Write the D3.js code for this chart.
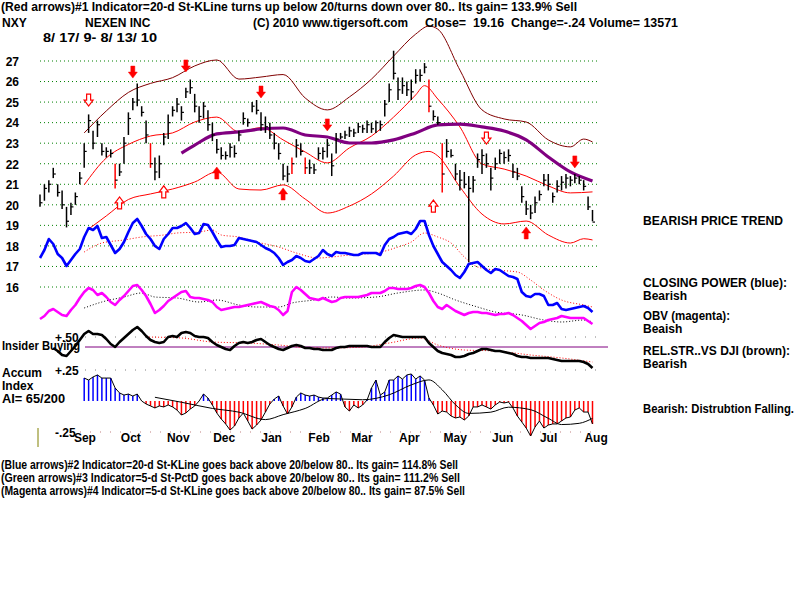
<!DOCTYPE html>
<html><head><meta charset="utf-8">
<script src="https://cdn.jsdelivr.net/npm/d3@7"></script>
<style>
body{margin:0;background:#fff}
svg text{font-family:"Liberation Sans",Arial,sans-serif;font-weight:bold;font-size:12px;white-space:pre;fill:#000}
</style></head><body>
<svg id="c" width="800" height="600"></svg>
<script>
// ---------------- DATA ----------------
const priceTicks = [27,26,25,24,23,22,21,20,19,18,17,16];
const monthLabels = ["Sep","Oct","Nov","Dec","Jan","Feb","Mar","Apr","May","Jun","Jul","Aug"];
const monthMid = ["2009-09-15","2009-10-15","2009-11-15","2009-12-15","2010-01-15","2010-02-15","2010-03-15","2010-04-15","2010-05-15","2010-06-15","2010-07-15","2010-08-15"];
const dateRange = ["2009-08-17","2010-08-13"];

const priceHigh = [20.5,21.0,21.2,21.8,21.0,20.7,19.9,20.1,20.6,21.6,
 23.0,24.4,23.6,24.1,23.0,22.8,22.7,22.0,22.0,23.3,
 24.5,25.2,25.9,24.8,24.1,23.0,22.3,22.4,23.5,24.4,
 24.8,25.2,24.8,25.7,26.1,25.4,24.8,25.0,24.6,24.0,
 23.2,22.8,22.6,23.0,22.9,23.6,24.5,24.2,25.0,25.1,
 24.5,24.3,24.0,23.5,23.0,22.0,21.9,22.3,23.2,23.0,
 22.3,22.2,22.0,22.8,22.8,23.2,22.5,23.5,23.5,23.6,
 23.8,23.7,24.0,23.9,24.1,24.0,24.1,24.1,25.1,25.9,
 27.5,26.2,26.2,26.0,26.1,26.6,26.6,26.9,26.1,24.6,
 24.3,23.0,23.2,22.7,22.0,21.7,21.6,21.4,21.4,22.5,
 22.7,22.5,21.8,22.3,22.7,22.6,22.7,22.0,21.8,20.9,
 20.2,20.0,20.4,20.7,21.5,21.5,20.6,21.2,21.4,21.5,
 21.4,21.5,21.4,21.2,20.4,19.75];
const priceLow = [19.9,20.2,20.6,21.3,20.4,19.8,18.9,19.5,20.0,21.0,
 21.8,23.5,22.7,23.3,22.4,22.3,22.3,20.8,21.4,22.0,
 23.4,24.6,24.8,24.3,23.0,21.8,21.2,21.3,22.9,23.2,
 24.3,24.5,24.1,25.2,25.4,24.5,24.0,24.2,23.6,23.1,
 22.5,22.2,22.2,22.3,22.3,23.1,23.9,23.8,24.5,24.4,
 23.6,23.5,23.2,22.7,22.2,21.2,21.1,21.5,22.3,22.4,
 21.5,21.5,21.5,22.2,22.2,22.3,21.4,22.5,23.2,23.2,
 23.3,23.3,23.5,23.5,23.5,23.5,23.5,23.6,24.3,25.0,
 26.1,25.1,25.4,25.3,25.1,25.9,26.0,26.4,24.5,24.1,
 23.9,20.6,22.3,22.3,21.2,20.7,20.8,17.2,20.6,21.8,
 21.5,21.8,20.7,21.7,22.0,22.0,22.1,21.3,21.2,20.1,
 19.5,19.3,19.6,20.2,20.9,20.7,20.1,20.6,20.7,20.8,
 20.9,21.05,21.0,20.7,19.75,19.2];
const priceClose = [20.1,20.8,21.0,21.5,20.6,20.0,19.2,19.9,20.4,21.3,
 22.6,24.1,23.0,23.9,22.6,22.6,22.5,21.2,21.6,23.0,
 24.2,25.0,25.1,24.5,23.4,22.0,21.6,22.0,23.3,24.0,
 24.6,24.9,24.5,25.5,25.7,24.8,24.3,24.8,23.9,23.4,
 22.7,22.4,22.4,22.8,22.5,23.4,24.2,24.0,24.8,24.6,
 23.9,23.8,23.4,23.0,22.5,21.4,21.5,22.0,22.9,22.6,
 21.8,21.8,21.7,22.5,22.6,22.9,21.9,23.2,23.3,23.4,
 23.6,23.5,23.8,23.7,23.9,23.7,24.0,23.9,24.9,25.6,
 26.4,25.6,25.8,25.6,25.5,26.3,26.3,26.7,24.8,24.3,
 24.0,21.5,22.6,22.4,21.5,21.2,21.0,20.8,21.2,22.2,
 22.4,22.0,21.3,22.0,22.5,22.3,22.4,21.6,21.4,20.4,
 19.8,19.6,20.1,20.5,21.2,21.0,20.4,20.9,21.1,21.3,
 21.2,21.3,21.2,20.9,19.9,19.16];
const redBars = [17,25,57,60,88,91];

// smooth bands: [bar index, price]
const upperBand = [[10,23.5],[15,24.57],[20,25.47],[25,25.91],[30,26.19],[35,26.76],[40,27.05],[45,26.12],[50,26.22],[55,26.34],[60,25.2],[65,24.62],[70,25.25],[75,26.12],[80,27.24],[85,28.31],[88,28.7],[90,28.55],[95,26.56],[100,24.62],[105,24.18],[110,24.03],[115,23.16],[120,22.82],[123,23.2],[125,23.06]];
const midBand = [[10,20.97],[15,22.28],[20,22.94],[25,23.35],[30,23.5],[35,24.03],[40,24.27],[45,23.55],[50,23.76],[55,23.16],[60,22.57],[65,22.04],[70,22.77],[75,23.35],[80,24.27],[85,25.35],[87,25.8],[90,25.15],[95,23.79],[100,21.99],[105,21.74],[110,21.4],[115,20.92],[120,20.58],[125,20.63]];
const lowBand = [[11,18.82],[15,19.46],[20,20.26],[25,20.53],[30,20.77],[35,21.11],[40,21.6],[45,20.77],[50,20.72],[55,20.97],[60,20.28],[65,19.6],[70,19.94],[75,20.53],[80,21.4],[85,22.43],[88,22.6],[90,22.38],[95,20.87],[100,19.55],[105,19.07],[110,19.21],[115,18.53],[120,18.14],[123,18.35],[125,18.29]];
const purpleMA = [[32,22.52],[35,22.91],[40,23.45],[45,23.55],[50,23.69],[55,23.74],[60,23.4],[65,23.3],[70,23.01],[75,23.01],[80,23.16],[85,23.5],[90,23.89],[95,23.93],[100,23.79],[105,23.59],[110,23.16],[115,22.33],[120,21.6],[125,21.16]];

// signal arrows: [bar index, price, hollow]
const sellArrows = [[11,25.1,1],[21,26.46,0],[33,26.76,0],[50,25.49,0],[65,23.89,0],[101,23.25,1],[121,22.09,0]];
const buyArrows = [[18,20.09,1],[28,20.63,1],[40,21.55,0],[55,20.53,0],[89,19.94,1],[110,18.63,0]];

// Closing Power (blue), indicator units
const closingPower = [62,70,81,76,66,62,54,60,66,71,
 83,92,90,94,82,83,75,67,71,78,
 88,97,101,94,86,81,74,71,81,86,
 92,92,94,97,92,86,87,96,95,88,
 80,73,74,74,75,82,81,80,79,78,
 75,72,70,67,62,55,58,60,64,62,
 59,58,61,64,70,66,64,68,67,67,
 66,65,65,67,67,67,67,65,75,81,
 83,86,87,88,86,91,99,99,85,74,
 66,58,54,50,45,42,48,56,57,58,
 54,50,47,51,50,47,44,43,41,28,
 24,23,26,26,24,15,15,17,11,10,
 11,12,13,14,12,8];
const closingPowerMA = [[10,68],[14,77],[19,80],[23,83],[28,85],[31,87],[36,88],[39,90],[41,85],[45,83],[49,78],[54,73],[58,67],[63,62],[66,63],[70,65],[76,67],[81,73],[84,78],[87,87],[90,83],[93,77],[96,63],[99,53],[103,50],[108,48],[111,40],[114,30],[118,20],[123,15],[125,13]];

// OBV (magenta)
const obv = [21,24,29,31,28,25,24,30,35,42,
 48,52,50,45,47,43,38,35,40,44,
 49,54,55,50,44,36,27,30,34,39,
 42,45,48,49,43,42,42,41,40,38,
 33,30,31,32,33,33,34,35,36,37,
 38,36,34,33,30,25,29,48,53,50,
 46,42,41,40,42,40,38,39,42,43,
 43,43,43,44,45,47,47,47,49,52,
 52,51,51,51,52,54,55,53,47,39,
 33,31,35,32,29,27,25,27,28,28,
 27,27,26,25,26,26,27,25,22,19,
 15,11,14,17,18,20,21,22,24,23,
 22,22,22,22,19,16];
const obvMA = [[10,32],[14,38],[19,43],[23,47],[26,43],[31,42],[36,38],[40,40],[45,35],[49,33],[54,33],[57,37],[62,40],[66,43],[70,42],[76,43],[81,47],[87,50],[90,47],[94,40],[99,33],[103,28],[109,25],[114,20],[118,18],[123,20],[125,18]];

// Relative strength vs DJI (black)
const relStr = [null,null,null,27,24,20,19,24,29,35,
 41,44,41,41,40,36,31,28,33,37,
 41,45,48,44,39,35,33,32,33,38,
 39,38,42,43,42,39,38,38,37,33,
 30,28,26,25,29,32,33,32,33,35,
 36,33,30,28,26,25,27,29,30,29,
 27,27,26,26,25,25,25,27,28,28,
 29,29,29,29,29,28,28,28,33,37,
 40,39,38,38,38,38,38,38,32,28,
 24,22,21,20,18,18,19,21,22,24,
 26,26,25,24,24,23,22,21,19,18,
 18,17,17,17,17,17,16,15,14,14,
 14,14,14,13,11,7];
const relStrMA = [[24,38],[32,37],[39,33],[47,32],[54,30],[62,27],[66,27],[73,28],[79,32],[86,37],[90,30],[96,25],[103,24],[111,20],[118,17],[125,13]];
const relStrBase = 28;

// Accumulation index
const accum = [null,null,null,null,null,null,null,null,null,null,
 .185,.169,.194,.21,.185,.185,.185,.105,.065,.048,
 .056,.04,.056,0,-.024,-.04,-.056,-.04,-.048,-.032,
 -.048,-.073,-.113,-.097,-.065,-.04,0,.056,.024,-.032,
 -.097,-.145,-.185,-.234,-.202,-.137,-.097,-.161,-.226,-.194,
 -.153,-.089,-.024,.016,.04,-.04,-.105,-.048,.032,.065,
 .048,.04,.048,.032,.024,.024,.048,.073,.056,-.048,
 -.081,-.032,-.056,-.032,.008,.105,.169,.048,.073,.169,
 .169,.202,.177,.21,.218,.177,.202,.169,.024,-.032,
 -.105,-.081,-.089,-.121,-.137,-.129,-.153,-.121,-.048,-.048,
 -.032,-.048,-.065,-.032,-.008,-.016,-.008,-.056,-.121,-.169,
 -.218,-.282,-.21,-.161,-.218,-.194,-.185,-.185,-.161,-.137,
 -.129,-.073,-.056,-.089,-.089,-.185];
const accumMA = [[26,.03],[32,-.01],[39,-.06],[45,-.09],[51,-.15],[55,-.11],[60,-.06],[65,.02],[73,.01],[79,.05],[84,.13],[88,.17],[91,.09],[94,-.03],[97,-.10],[102,-.09],[106,-.05],[111,-.07],[115,-.14],[118,-.19],[122,-.18],[125,-.14]];
const accumTicks = [0.5, 0.25, -0.25];

// ---------------- SCALES ----------------
const N = priceClose.length;
const svg = d3.select("#c");
const xi = d3.scaleLinear().domain([0, N-1]).range([40, 592.5]);
const xt = d3.scaleTime().domain(dateRange.map(d=>new Date(d))).range([40, 592.5]);
const yP = d3.scaleLinear().domain([16,27]).range([287,61]);
const yCP = d3.scaleLinear().domain([0,110]).range([320,210]);
const yOBV = d3.scaleLinear().domain([0,60]).range([340,280]);
const yRS = d3.scaleLinear().domain([0,50]).range([375,325]);
const yAI = d3.scaleLinear().domain([-0.25,0.25]).range([432,370]);

function txt(x, y, s, opt={}) {
  const t = svg.append("text").attr("x", x).attr("y", y).text(s);
  if (opt.size) t.style("font-size", opt.size + "px");
  if (opt.w) t.attr("textLength", opt.w).attr("lengthAdjust", "spacingAndGlyphs");
  if (opt.anchor) t.attr("text-anchor", opt.anchor);
  return t;
}
const pairs = arr => arr.map((v,i)=>[i,v]);
function drawLine(data, yS, color, width, opts={}) {
  const gen = d3.line().defined(d=>d[1]!=null).x(d=>xi(d[0])).y(d=>yS(d[1]));
  if (opts.curve) gen.curve(opts.curve);
  const p = svg.append("path").datum(data).attr("d", gen).attr("fill","none")
    .attr("stroke", color).attr("stroke-width", width).attr("stroke-linejoin","round");
  if (opts.dash) p.attr("stroke-dasharray", opts.dash);
  return p;
}

// ---------------- GRID ----------------
svg.append("g").selectAll("line").data(priceTicks).join("line")
  .attr("x1",40).attr("x2",598).attr("y1",d=>yP(d)).attr("y2",d=>yP(d))
  .attr("stroke","#008000").attr("stroke-dasharray","1,3");
const yAxis = svg.append("g").attr("transform","translate(19,0)")
  .call(d3.axisLeft(yP).tickValues(priceTicks).tickSize(0).tickPadding(0).tickFormat(d3.format("d")));
yAxis.select(".domain").remove();
yAxis.selectAll("text").attr("dy","0.36em").style("font-size","12px").style("font-family",null);

// accum/insider dotted guides
svg.append("g").selectAll("line").data(accumTicks).join("line")
  .attr("x1",d=>d<0?80:85).attr("x2",598)
  .attr("y1",d=>d===0.5?337:yAI(d)).attr("y2",d=>d===0.5?337:yAI(d))
  .attr("stroke",d=>d<0?"#c08080":"#808080").attr("stroke-dasharray","1,9");
svg.append("line").attr("x1",85).attr("x2",608).attr("y1",yRS(relStrBase)).attr("y2",yRS(relStrBase))
  .attr("stroke","#800080").attr("stroke-width",1);
svg.append("line").attr("x1",38).attr("x2",38).attr("y1",428).attr("y2",447).attr("stroke","#808000").attr("stroke-width",1);

// ---------------- BANDS ----------------
drawLine(upperBand, yP, "#800000", 1, {curve:d3.curveMonotoneX});
drawLine(midBand, yP, "#ff0000", 1, {curve:d3.curveMonotoneX});
drawLine(lowBand, yP, "#ff0000", 1, {curve:d3.curveMonotoneX});
drawLine(purpleMA, yP, "#800080", 3.2, {curve:d3.curveMonotoneX});

// ---------------- PRICE BARS ----------------
const bars = priceClose.map((c,i)=>({i, h:priceHigh[i], l:priceLow[i], c, red:redBars.includes(i)}));
const gb = svg.append("g");
gb.selectAll("line.hl").data(bars).join("line").attr("class","hl")
  .attr("x1",d=>xi(d.i)).attr("x2",d=>xi(d.i)).attr("y1",d=>yP(d.h)).attr("y2",d=>yP(d.l))
  .attr("stroke",d=>d.red?"#ff0000":"#000").attr("stroke-width",1.5);
gb.selectAll("line.cl").data(bars).join("line").attr("class","cl")
  .attr("x1",d=>xi(d.i)).attr("x2",d=>xi(d.i)+2.5).attr("y1",d=>yP(d.c)).attr("y2",d=>yP(d.c))
  .attr("stroke","#000").attr("stroke-width",1.2);

// ---------------- ARROWS ----------------
const downPath = "M-2,-6L2,-6L2,0L4.5,0L0,6L-4.5,0L-2,0Z";
const upPath = "M-2,6L2,6L2,0L4.5,0L0,-6L-4.5,0L-2,0Z";
svg.append("g").selectAll("path").data(sellArrows).join("path")
  .attr("d", downPath).attr("transform",d=>`translate(${xi(d[0])},${yP(d[1])})`)
  .attr("fill",d=>d[2]?"#fff":"#ff0000").attr("stroke","#ff0000").attr("stroke-width",d=>d[2]?1.2:0.5);
svg.append("g").selectAll("path").data(buyArrows).join("path")
  .attr("d", upPath).attr("transform",d=>`translate(${xi(d[0])},${yP(d[1])})`)
  .attr("fill",d=>d[2]?"#fff":"#ff0000").attr("stroke","#ff0000").attr("stroke-width",d=>d[2]?1.2:0.5);

// ---------------- INDICATORS ----------------
drawLine(closingPowerMA, yCP, "#ff0000", 1, {curve:d3.curveMonotoneX, dash:"1,2"});
drawLine(pairs(closingPower), yCP, "#0000ff", 2.6);
drawLine(obvMA, yOBV, "#000", 1, {curve:d3.curveMonotoneX, dash:"1,2"});
drawLine(pairs(obv), yOBV, "#ff00ff", 2.6);
drawLine(relStrMA, yRS, "#ff0000", 1, {curve:d3.curveMonotoneX, dash:"1,2"});
drawLine(pairs(relStr), yRS, "#000", 2.6);

// ---------------- ACCUM INDEX ----------------
const ai = pairs(accum).filter(d=>d[1]!=null);
svg.append("g").selectAll("line").data(ai).join("line")
  .attr("x1",d=>xi(d[0])).attr("x2",d=>xi(d[0])).attr("y1",yAI(0)).attr("y2",d=>yAI(d[1]))
  .attr("stroke",d=>d[1]>=0?"#0000ff":"#ff0000").attr("stroke-width",1.5);
drawLine(ai, yAI, "#000", 1);
drawLine(accumMA, yAI, "#000", 1, {curve:d3.curveMonotoneX});

// ---------------- MONTH AXIS ----------------
const xAxis = svg.append("g").attr("transform","translate(0,431)")
  .call(d3.axisBottom(xt).tickValues(monthMid.map(d=>new Date(d))).tickSize(0).tickPadding(0)
    .tickFormat((d,i)=>monthLabels[i]));
xAxis.select(".domain").remove();
xAxis.selectAll("text").attr("dy","0.9em").style("font-size","12px").style("font-family",null);

// ---------------- TEXT ----------------
txt(1, 11, "(Red arrows)#1 Indicator=20-d St-KLine turns up below 20/turns down over 80.. Its gain= 133.9% Sell", {w:576});
txt(2, 27, "NXY");
txt(85, 27, "NEXEN INC");
txt(253, 27, "(C) 2010 www.tigersoft.com", {w:155});
txt(425, 27, "Close=  19.16  Change=-.24 Volume= 13571", {w:253});
txt(43, 42, "8/ 17/ 9- 8/ 13/ 10", {w:114});

txt(643, 225, "BEARISH PRICE TREND", {w:140});
txt(643, 287, "CLOSING POWER (blue):", {w:144});
txt(643, 300, "Bearish");
txt(643, 320, "OBV (magenta):", {w:87});
txt(643, 333, "Beaish");
txt(643, 355, "REL.STR..VS DJI (brown):", {w:147});
txt(643, 368, "Bearish");
txt(643, 413, "Bearish: Distrubtion Falling.", {w:151});

txt(55, 342, "+.50");
txt(2, 350, "Insider Buying", {w:78});
txt(55, 375, "+.25");
txt(2, 377, "Accum");
txt(2, 390, "Index");
txt(2, 403, "AI= 65/200", {w:63});
txt(55, 437, "-.25");

txt(1, 469, "(Blue arrows)#2 Indicator=20-d St-KLine goes back above 20/below 80.. Its gain= 114.8% Sell", {w:457, size:12});
txt(1, 482, "(Green arrows)#3 Indicator=5-d St-PctD goes back above 20/below 80.. Its gain= 111.2% Sell", {w:459, size:12});
txt(1, 495, "(Magenta arrows)#4 Indicator=5-d St-KLine goes back above 20/below 80.. Its gain= 87.5% Sell", {w:464, size:12});
</script>
</body></html>
